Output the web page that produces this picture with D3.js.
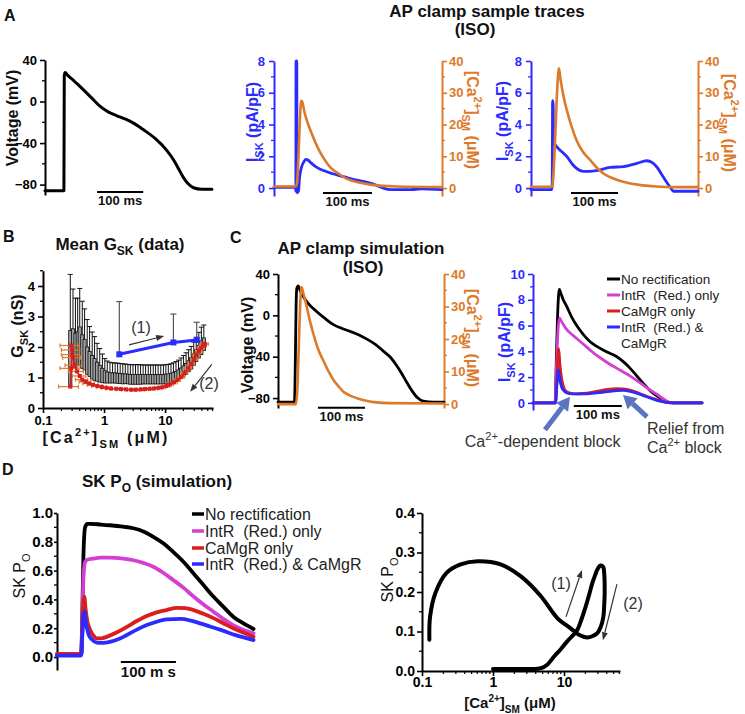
<!DOCTYPE html>
<html><head><meta charset="utf-8">
<script src="https://cdn.jsdelivr.net/npm/d3@7/dist/d3.min.js"></script>
<style>body{margin:0;background:#fff}text{white-space:pre}</style>
</head><body>
<svg id="fig" width="745" height="714" style="background:#fff"></svg>
<script>
// ---------------- DATA ----------------
// Panel A: recorded AP clamp traces  [time ms, value]
const apA1 = [[0,-86],[41,-86],[41.8,25],[43.5,28],[50,25],[60,21],[70,17],[83,11.5],[100,4],[119,-4.5],[137,-10],[155,-13.5],[175,-17],[191,-20.5],[213,-27],[240,-36],[264,-47],[280,-57],[290,-65],[300,-73],[310,-79],[322,-83],[340,-84.5],[362,-84.5]];
const iskA2 = [[0,0.05],[44,0.05],[44.6,-0.2],[45,8],[46.5,8],[47,-0.3],[50,-0.2],[52,0.6],[56,1.3],[60,1.6],[65,1.8],[70,1.75],[75,1.6],[85,1.35],[101,1.1],[120,0.9],[135,0.77],[150,0.65],[169,0.5],[185,0.4],[203,0.25],[215,0.1],[223,0],[240,-0.1],[280,-0.1],[300,-0.05],[343,-0.1]];
const caA2 = [[0,0.5],[44,0.5],[47,1.5],[50,10],[53,22],[55.5,27.5],[58,27],[62,24],[70,20],[80,16],[90,12.5],[101,9.5],[115,6.5],[135,4.2],[150,2.8],[169,1.9],[200,1],[250,0.5],[343,0.3]];
const iskA3 = [[0,-0.1],[44,-0.1],[45,0.2],[46,5.5],[47,5.3],[48,3.2],[50,2.8],[55,2.6],[65,2.3],[76,2.0],[88,1.5],[97,1.24],[111,1.05],[125,1.05],[140,1.1],[168,1.3],[197,1.35],[225,1.55],[246,1.72],[258,1.6],[267,1.34],[281,0.71],[290,0.3],[296,0.05],[303,-0.2],[355,-0.2]];
const caA3 = [[0,0.4],[45,0.4],[48,5],[52,18],[56,32],[59.5,37.7],[63,34],[69,29],[76,24.6],[86,19.5],[97,15],[110,11.5],[126,8.8],[140,6.4],[154,4.6],[175,3],[196,2],[230,1],[267,0.5],[300,0.3],[355,0.3]];

// Panel B: mean G_SK vs [Ca2+]SM
const gskCa   = [0.28,0.31,0.34,0.37,0.40,0.44,0.48,0.53,0.58,0.64,0.70,0.77,0.85,0.94,1.03,1.13,1.25,1.38,1.52,1.67,1.84,2.03,2.23,2.46,2.7,2.98,3.28,3.6,3.97,4.37,4.8,5.3,5.8,6.4,7.0,7.7,8.5,9.4,10.3,11.3,12.5,13.7,15.1,16.6,18.3,20.1,22.1,24.3,26.8,29.5,32.4,35.7,39.3,43.2];
const gskMean = [2.54,2.6,2.45,2.5,2.66,2.4,2.25,2.0,1.85,1.72,1.62,1.5,1.4,1.3,1.22,1.18,1.16,1.15,1.15,1.14,1.13,1.12,1.12,1.11,1.1,1.1,1.1,1.1,1.1,1.1,1.1,1.1,1.1,1.1,1.1,1.1,1.1,1.1,1.11,1.12,1.14,1.17,1.2,1.25,1.31,1.38,1.46,1.55,1.65,1.78,1.92,2.06,2.2,2.3];
const gskSem  = [1.84,1.3,1.15,1.1,1.26,1.1,1.0,0.9,0.82,0.77,0.72,0.62,0.55,0.47,0.4,0.36,0.34,0.33,0.33,0.33,0.33,0.33,0.32,0.32,0.32,0.32,0.32,0.32,0.32,0.31,0.31,0.31,0.31,0.31,0.31,0.31,0.31,0.31,0.31,0.31,0.31,0.31,0.32,0.32,0.33,0.34,0.35,0.36,0.37,0.38,0.4,0.42,0.45,0.42];
const redCa   = [45,42,39,36,33,30,27,24,21,18.5,16,14,12,10.5,9,7.8,6.6,5.6,4.7,4.0,3.3,2.8,2.3,1.9,1.6,1.3,1.1,0.92,0.78,0.66,0.57,0.5,0.44,0.4,0.36,0.33,0.31,0.3,0.29,0.3,0.29,0.28];
const redG    = [2.1,2.05,1.97,1.88,1.75,1.6,1.45,1.3,1.15,1.02,0.92,0.84,0.77,0.72,0.68,0.66,0.64,0.63,0.62,0.61,0.6,0.6,0.61,0.62,0.63,0.64,0.66,0.69,0.72,0.76,0.8,0.86,0.93,1.05,1.2,1.4,1.65,1.9,2.05,1.75,1.3,0.7];
const redCaErr= [6,5.5,5,4.6,4.2,3.8,3.4,3,2.6,2.3,2,1.8,1.6,1.4,1.2,1.05,0.9,0.78,0.66,0.57,0.48,0.41,0.35,0.3,0.26,0.22,0.19,0.17,0.15,0.13,0.12,0.11,0.1,0.1,0.1,0.1,0.1,0.1,0.1,0.1,0.1,0.1];
const blueCa  = [1.78,13.7,33];
const blueG   = [1.76,2.15,2.23];
const blueErr = [1.73,0.93,0.58];

// Panel C: simulation
const apC = [[0,-84],[35,-84],[37,-40],[38.5,10],[40,26],[43,28.5],[47,24],[54,18],[65,11],[82,3.8],[100,-3],[118,-9],[135,-12.5],[153,-15.4],[170,-18.5],[189,-23],[207,-28],[224,-34.6],[240,-41],[253,-49],[264,-57],[274,-65],[285,-73],[295,-79],[309,-83],[330,-84],[353,-84]];
const caC = [[0,0],[38,0],[41,4],[44,17],[47,30],[50,36],[54,34],[61,30],[68,25.5],[75,21.7],[85,17],[96,13.5],[107,10.2],[118,7.4],[129,5.4],[139,3.8],[152,2.7],[168,1.8],[185,1.1],[204,0.6],[240,0.3],[353,0.2]];
const iskNone = [[0,0],[46,0],[49,4],[52,7.5],[55,8.8],[58,8.5],[63,8],[70,7.5],[80,6.7],[91,6.0],[105,5.3],[119,4.75],[132,4.4],[146,4.1],[160,3.85],[174,3.6],[188,3.2],[202,2.7],[216,2.1],[230,1.5],[244,0.95],[258,0.54],[272,0.22],[285,0.03],[300,0],[352,0]];
const iskIntR = [[0,0],[46,0],[49,3],[52,5.6],[55,6.6],[58,6.4],[63,6.1],[70,5.7],[80,5.35],[91,5.0],[105,4.55],[119,4.1],[132,3.7],[146,3.35],[160,3.0],[174,2.7],[188,2.4],[202,2.1],[216,1.75],[230,1.37],[244,1.0],[258,0.67],[272,0.3],[285,0.05],[300,0],[352,0]];
const iskCaMg = [[0,0],[47,0],[50,2],[52,3.8],[53.5,4.2],[56,3],[60,1.8],[65,1.1],[70,0.88],[80,0.75],[91,0.7],[105,0.73],[119,0.8],[132,0.9],[146,1.0],[160,1.07],[174,1.1],[188,1.08],[202,1.0],[216,0.82],[230,0.6],[244,0.42],[258,0.25],[272,0.1],[285,0.02],[300,0],[352,0]];
const iskBoth = [[0,0],[47,0],[50,1.5],[52,2.4],[53.5,2.56],[56,1.8],[60,1.2],[63,1.0],[69,0.8],[75,0.72],[90,0.7],[105,0.7],[119,0.72],[140,0.8],[160,0.9],[174,0.96],[188,0.97],[202,0.9],[216,0.75],[230,0.57],[244,0.38],[258,0.2],[272,0.08],[285,0.01],[300,0],[352,0]];

// Panel D: SK open probability
const poNone = [[0,0.02],[44,0.02],[46,0.3],[48,0.7],[51,0.9],[55,0.925],[60,0.925],[80,0.92],[96,0.915],[120,0.905],[139,0.894],[158,0.87],[175,0.835],[193,0.79],[211,0.73],[230,0.66],[248,0.58],[266,0.5],[284,0.42],[302,0.35],[320,0.28],[338,0.235],[357,0.195]];
const poIntR = [[0,0.02],[44,0.02],[46,0.25],[48,0.55],[51,0.66],[55,0.675],[65,0.683],[80,0.69],[96,0.69],[120,0.683],[139,0.672],[158,0.652],[175,0.627],[193,0.585],[211,0.535],[230,0.48],[248,0.42],[266,0.365],[284,0.315],[302,0.265],[320,0.222],[338,0.19],[357,0.165]];
const poCaMg = [[0,0.02],[44,0.02],[46,0.2],[48,0.38],[49.5,0.42],[52,0.33],[55,0.25],[60,0.19],[66,0.15],[72,0.13],[81,0.13],[90,0.14],[108,0.17],[127,0.21],[145,0.25],[163,0.285],[181,0.31],[199,0.326],[218,0.342],[233,0.34],[248,0.326],[266,0.3],[284,0.27],[302,0.235],[320,0.2],[338,0.17],[357,0.14]];
const poBoth = [[0,0.01],[44,0.01],[46,0.15],[48,0.28],[49.5,0.315],[52,0.25],[55,0.19],[58,0.15],[64,0.12],[72,0.1],[84,0.098],[96,0.105],[112,0.125],[127,0.153],[145,0.19],[163,0.222],[181,0.245],[199,0.262],[225,0.265],[243,0.253],[260,0.234],[278,0.212],[296,0.19],[326,0.15],[357,0.118]];
const loopCa = [1,2,3.5,4.7,5.8,7.2,9,11.1,13,15.4,17.8,20.2,22.6,25,27.5,29.5,32.7,35.5,36.8,37.4,36.8,35.9,33,29.5,25,21.3,16.2,12.4,8.05,4.7,2.45,1.28,0.61,0.35,0.22,0.154,0.13,0.127];
const loopPo = [0.005,0.005,0.005,0.007,0.016,0.036,0.055,0.075,0.088,0.104,0.133,0.163,0.193,0.222,0.243,0.257,0.267,0.264,0.248,0.197,0.165,0.138,0.112,0.096,0.088,0.085,0.092,0.108,0.134,0.19,0.24,0.27,0.278,0.27,0.248,0.197,0.138,0.079];

const legendLabels = ["No rectification","IntR  (Red.) only","CaMgR only","IntR  (Red.) & CaMgR"];

// ---------------- STYLE ----------------
const FONT = "Arial, 'Liberation Sans', Helvetica, sans-serif";
const C_BLUE="#2b2bff", C_OR="#dc7a2a", C_PINK="#d23fd2", C_RED="#d81e1e", C_ARROW="#5a74c2", C_TXT="#333";
const legendColors = ["#000", C_PINK, C_RED, C_BLUE];

const svg = d3.select("#fig");

function txt(g, x, y, parts, o){
  o = o||{};
  const fs = o.fs||16;
  const t = g.append("text").attr("font-family",FONT).attr("font-size",fs)
    .attr("font-weight",o.bold?"bold":"normal").attr("fill",o.color||"#111")
    .attr("text-anchor",o.anchor||"start");
  if(o.rot!==undefined) t.attr("transform",`translate(${x},${y}) rotate(${o.rot})`);
  else t.attr("x",x).attr("y",y);
  if(o.ls) t.attr("letter-spacing",o.ls);
  if(typeof parts==="string") parts=[[parts]];
  let cur=0;
  parts.forEach(([s,k])=>{
    const off = k==="sup"? -0.42*fs : k==="sub"? 0.3*fs : 0;
    t.append("tspan").attr("dy",off-cur).attr("font-size",k?Math.round(fs*0.68):fs).text(s);
    cur=off;
  });
  return t;
}
function styleAxis(a,color,fs){
  a.attr("font-family",FONT).attr("font-size",fs).attr("font-weight","bold");
  a.select(".domain").attr("stroke",color).attr("stroke-width",2);
  a.selectAll(".tick line").attr("stroke",color).attr("stroke-width",1.6);
  a.selectAll(".tick text").attr("fill",color);
}
function yAxis(g, scale, x, side, major, minor, fmt, color, fs, tl, pad){
  const ax=(side==="left"?d3.axisLeft(scale):d3.axisRight(scale)).tickValues(major).tickFormat(fmt)
    .tickSize(tl||5).tickSizeOuter(0).tickPadding(pad===undefined?3:pad);
  const a=g.append("g").attr("transform",`translate(${x},0)`).call(ax);
  styleAxis(a,color,fs);
  a.selectAll("line.minor").data(minor).join("line").attr("class","minor")
    .attr("x1",0).attr("x2",side==="left"?-3:3).attr("y1",d=>scale(d)).attr("y2",d=>scale(d))
    .attr("stroke",color).attr("stroke-width",1.3);
}
function xAxis(g, scale, y, major, minor, fmt, color, fs, pad){
  const ax=d3.axisBottom(scale).tickValues(major).tickFormat(fmt).tickSize(5).tickSizeOuter(0).tickPadding(pad===undefined?3:pad);
  const a=g.append("g").attr("transform",`translate(0,${y})`).call(ax);
  styleAxis(a,color,fs);
  a.selectAll("line.minor").data(minor).join("line").attr("class","minor")
    .attr("y1",0).attr("y2",3).attr("x1",d=>scale(d)).attr("x2",d=>scale(d))
    .attr("stroke",color).attr("stroke-width",1.2);
}
function trace(g,x,y,data,color,w){
  g.append("path").datum(data).attr("fill","none").attr("stroke",color).attr("stroke-width",w)
    .attr("stroke-linejoin","round").attr("stroke-linecap","round")
    .attr("d",d3.line().x(d=>x(d[0])).y(d=>y(d[1])).curve(d3.curveMonotoneX));
}
function scaleBar(g,x,y,t0,v){
  g.append("line").attr("x1",x(t0)).attr("x2",x(t0+100)).attr("y1",y(v)).attr("y2",y(v))
    .attr("stroke","#000").attr("stroke-width",2);
}
function scaleBarText(g,x,y,t0,v,label,fs){
  txt(g,(x(t0)+x(t0+100))/2,y(v)+fs,label,{bold:true,fs:fs,anchor:"middle"});
}
function arrow(g,x1,y1,x2,y2,color,w,hl,hw){
  const a=Math.atan2(y2-y1,x2-x1);
  const bx=x2-hl*Math.cos(a), by=y2-hl*Math.sin(a);
  g.append("line").attr("x1",x1).attr("y1",y1).attr("x2",bx).attr("y2",by).attr("stroke",color).attr("stroke-width",w);
  const px=-Math.sin(a)*hw/2, py=Math.cos(a)*hw/2;
  g.append("path").attr("d",`M${x2},${y2}L${bx+px},${by+py}L${bx-px},${by-py}Z`).attr("fill",color);
}
const f0 = d3.format("d"), f1 = d3.format(".1f");
const logFmt = d=> d<1? "0.1" : String(d);
const logMinor = [0.2,0.3,0.4,0.5,0.6,0.7,0.8,0.9,2,3,4,5,6,7,8,9,20,30,40,50,60];
const caLabel = [["[Ca"],["2+","sup"],["]"],["SM","sub"],[" (μM)"]];
const iskLabel = [["I"],["SK","sub"],[" (pA/pF)"]];

// ---------------- PANEL A ----------------
const gA = svg.append("g");
txt(gA,4,21,"A",{bold:true,fs:16});
txt(gA,487,17,"AP clamp sample traces",{bold:true,fs:17,anchor:"middle"});
txt(gA,475,35,"(ISO)",{bold:true,fs:17,anchor:"middle"});

// A1
const xA1=d3.scaleLinear().domain([0,360]).range([45,211]);
const yA1=d3.scaleLinear().domain([-90,40]).range([195,60]);
yAxis(gA,yA1,45,"left",[40,0,-40,-80],[20,-20,-60],f0,"#000",13,5,3);
trace(gA,xA1,yA1,apA1,"#000",3);
scaleBar(gA,xA1,yA1,113,-87); scaleBarText(gA,xA1,yA1,113,-87,"100 ms",13);
txt(gA,18,118,"Voltage (mV)",{bold:true,fs:16,rot:-90,anchor:"middle"});

// A2
const xA2=d3.scaleLinear().domain([0,343]).range([274,442]);
const yA2L=d3.scaleLinear().domain([-0.5,8]).range([196,61]);
const yA2R=d3.scaleLinear().domain([-2.5,40]).range([196,61]);
yAxis(gA,yA2L,274,"left",[0,2,4,6,8],[1,3,5,7],f0,C_BLUE,13,5,4);
yAxis(gA,yA2R,442,"right",[0,10,20,30,40],[5,15,25,35],f0,C_OR,13,5,2);
trace(gA,xA2,yA2L,iskA2,C_BLUE,2.8);
trace(gA,xA2,yA2R,caA2,C_OR,2.6);
scaleBar(gA,xA2,yA2L,100,-0.31); scaleBarText(gA,xA2,yA2L,100,-0.31,"100 ms",13);
txt(gA,258,122,iskLabel,{bold:true,fs:16,rot:-90,anchor:"middle",color:C_BLUE});
txt(gA,467,120,caLabel,{bold:true,fs:16,rot:90,anchor:"middle",color:C_OR});

// A3
const xA3=d3.scaleLinear().domain([0,355]).range([531,698]);
const yA3L=d3.scaleLinear().domain([-0.5,8]).range([196,61]);
const yA3R=d3.scaleLinear().domain([-2.5,40]).range([196,61]);
yAxis(gA,yA3L,531,"left",[0,2,4,6,8],[1,3,5,7],f0,C_BLUE,13,5,4);
yAxis(gA,yA3R,698,"right",[0,10,20,30,40],[5,15,25,35],f0,C_OR,13,5,2);
trace(gA,xA3,yA3L,iskA3,C_BLUE,2.8);
trace(gA,xA3,yA3R,caA3,C_OR,2.6);
scaleBar(gA,xA3,yA3L,85,-0.31); scaleBarText(gA,xA3,yA3L,85,-0.31,"100 ms",13);
txt(gA,508,121,iskLabel,{bold:true,fs:16,rot:-90,anchor:"middle",color:C_BLUE});
txt(gA,724,123,caLabel,{bold:true,fs:16,rot:90,anchor:"middle",color:C_OR});

// ---------------- PANEL B ----------------
const gB = svg.append("g");
txt(gB,3,242,"B",{bold:true,fs:16});
txt(gB,120,250,[["Mean G"],["SK","sub"],[" (data)"]],{bold:true,fs:17,anchor:"middle"});
const xB=d3.scaleLog().domain([0.1,61]).range([43,213]);
const yB=d3.scaleLinear().domain([0,4.5]).range([408,270.75]);
const bd=gskCa.map((c,i)=>({c,m:gskMean[i],s:gskSem[i]}));
gB.selectAll("line.wk").data(bd).join("line").attr("class","wk")
  .attr("x1",d=>xB(d.c)).attr("x2",d=>xB(d.c)).attr("y1",d=>yB(d.m)).attr("y2",d=>yB(d.m+d.s))
  .attr("stroke","#111").attr("stroke-width",1);
gB.selectAll("line.cap").data(bd).join("line").attr("class","cap")
  .attr("x1",d=>xB(d.c)-2.5).attr("x2",d=>xB(d.c)+2.5).attr("y1",d=>yB(d.m+d.s)).attr("y2",d=>yB(d.m+d.s))
  .attr("stroke","#111").attr("stroke-width",1);
gB.selectAll("rect.bar").data(bd).join("rect").attr("class","bar")
  .attr("x",d=>xB(d.c)-1.6).attr("width",3.2).attr("y",d=>yB(d.m)).attr("height",d=>yB(d.m-d.s)-yB(d.m))
  .attr("fill","#a0a0a0").attr("stroke","#111").attr("stroke-width",0.8);
const rd=redCa.map((c,i)=>({c,g:redG[i],e:redCaErr[i]}));
gB.selectAll("line.xe").data(rd).join("line").attr("class","xe")
  .attr("x1",d=>xB(Math.max(d.c-d.e,0.105))).attr("x2",d=>xB(d.c+d.e)).attr("y1",d=>yB(d.g)).attr("y2",d=>yB(d.g))
  .attr("stroke",C_OR).attr("stroke-width",1.2);
gB.selectAll("line.xc1").data(rd).join("line").attr("class","xc1")
  .attr("x1",d=>xB(Math.max(d.c-d.e,0.105))).attr("x2",d=>xB(Math.max(d.c-d.e,0.105))).attr("y1",d=>yB(d.g)-2).attr("y2",d=>yB(d.g)+2)
  .attr("stroke",C_OR).attr("stroke-width",1.2);
gB.selectAll("line.xc2").data(rd).join("line").attr("class","xc2")
  .attr("x1",d=>xB(d.c+d.e)).attr("x2",d=>xB(d.c+d.e)).attr("y1",d=>yB(d.g)-2).attr("y2",d=>yB(d.g)+2)
  .attr("stroke",C_OR).attr("stroke-width",1.2);
gB.append("path").datum(rd).attr("fill","none").attr("stroke",C_RED).attr("stroke-width",1.6)
  .attr("d",d3.line().x(d=>xB(d.c)).y(d=>yB(d.g)));
gB.selectAll("rect.rs").data(rd).join("rect").attr("class","rs")
  .attr("x",d=>xB(d.c)-2).attr("y",d=>yB(d.g)-2).attr("width",4).attr("height",4).attr("fill",C_RED);
const bl=blueCa.map((c,i)=>({c,g:blueG[i],e:blueErr[i]}));
gB.selectAll("line.bw").data(bl).join("line").attr("class","bw")
  .attr("x1",d=>xB(d.c)).attr("x2",d=>xB(d.c)).attr("y1",d=>yB(d.g)).attr("y2",d=>yB(d.g+d.e))
  .attr("stroke","#555").attr("stroke-width",1.2);
gB.selectAll("line.bc").data(bl).join("line").attr("class","bc")
  .attr("x1",d=>xB(d.c)-3).attr("x2",d=>xB(d.c)+3).attr("y1",d=>yB(d.g+d.e)).attr("y2",d=>yB(d.g+d.e))
  .attr("stroke","#555").attr("stroke-width",1.2);
gB.append("path").datum(bl).attr("fill","none").attr("stroke",C_BLUE).attr("stroke-width",3)
  .attr("d",d3.line().x(d=>xB(d.c)).y(d=>yB(d.g)));
gB.selectAll("rect.bs").data(bl).join("rect").attr("class","bs")
  .attr("x",d=>xB(d.c)-3).attr("y",d=>yB(d.g)-3).attr("width",6).attr("height",6).attr("fill",C_BLUE);
yAxis(gB,yB,43,"left",[0,1,2,3,4],[0.5,1.5,2.5,3.5,4.5],f0,"#000",13,5,3);
xAxis(gB,xB,408,[0.1,1,10],logMinor,logFmt,"#000",13);
txt(gB,23,326,[["G"],["SK","sub"],[" (nS)"]],{bold:true,fs:16,rot:-90,anchor:"middle"});
txt(gB,106,443,caLabel,{bold:true,fs:16,anchor:"middle",ls:2.2});
arrow(gB,xB(2.57),yB(2.07),xB(9.64),yB(2.36),"#333",1.2,8,6);
txt(gB,xB(4.04),yB(2.46),"(1)",{fs:16,anchor:"middle",color:C_TXT});
arrow(gB,xB(58.3),yB(1.43),xB(25.7),yB(0.53),"#333",1.2,8,6);
txt(gB,xB(52.6),yB(0.62),"(2)",{fs:16,anchor:"middle",color:C_TXT});

// ---------------- PANEL C ----------------
const gC = svg.append("g");
txt(gC,230,243,"C",{bold:true,fs:16});
txt(gC,361,254,"AP clamp simulation",{bold:true,fs:17,anchor:"middle"});
txt(gC,363,273,"(ISO)",{bold:true,fs:17,anchor:"middle"});
const xCL=d3.scaleLinear().domain([0,353]).range([278,444]);
const yCLv=d3.scaleLinear().domain([-89.6,40]).range([408,274]);
const yCLc=d3.scaleLinear().domain([-1.2,40]).range([408,274]);
yAxis(gC,yCLv,278,"left",[40,0,-40,-80],[20,-20,-60],f0,"#000",13,5,3);
yAxis(gC,yCLc,444,"right",[0,10,20,30,40],[5,15,25,35],f0,C_OR,13,5,2);
trace(gC,xCL,yCLv,apC,"#000",2.8);
trace(gC,xCL,yCLc,caC,C_OR,2.6);
scaleBar(gC,xCL,yCLv,85,-89.4); scaleBarText(gC,xCL,yCLv,85,-89.4,"100 ms",13);
txt(gC,253,345,"Voltage (mV)",{bold:true,fs:16,rot:-90,anchor:"middle"});
txt(gC,467,338,caLabel,{bold:true,fs:16,rot:90,anchor:"middle",color:C_OR});

const xCR=d3.scaleLinear().domain([0,352]).range([533,702]);
const yCR=d3.scaleLinear().domain([-0.55,10]).range([410,274]);
yAxis(gC,yCR,533,"left",[0,2,4,6,8,10],[1,3,5,7,9],f0,C_BLUE,13,5,3);
[iskNone,iskIntR,iskCaMg,iskBoth].forEach((s,i)=>trace(gC,xCR,yCR,s,legendColors[i],2.8));
scaleBar(gC,xCR,yCR,85,-0.24); scaleBarText(gC,xCR,yCR,85,-0.24,"100 ms",13);
txt(gC,510,342,iskLabel,{bold:true,fs:16,rot:-90,anchor:"middle",color:C_BLUE});
const legC=[legendLabels[0],legendLabels[1],legendLabels[2],"IntR  (Red.) &"];
const legCy=[279,295,311,327];
legC.forEach((s,i)=>{
  gC.append("line").attr("x1",607).attr("x2",620).attr("y1",legCy[i]).attr("y2",legCy[i]).attr("stroke",legendColors[i]).attr("stroke-width",3);
  txt(gC,621,legCy[i]+5,s,{fs:13.5,color:"#222"});
});
txt(gC,621,348,"CaMgR",{fs:13.5,color:"#222"});
arrow(gC,xCR(25),yCR(-2.09),xCR(77),yCR(0.47),C_ARROW,5,13,15);
arrow(gC,xCR(237.5),yCR(-1.09),xCR(187.5),yCR(0.62),C_ARROW,5,13,15);
txt(gC,xCR(-142),yCR(-3.41),[["Ca"],["2+","sup"],["-dependent block"]],{fs:16,color:C_TXT});
txt(gC,xCR(237.5),yCR(-2.4),"Relief from",{fs:16,color:C_TXT});
txt(gC,xCR(237.5),yCR(-3.88),[["Ca"],["2+","sup"],[" block"]],{fs:16,color:C_TXT});

// ---------------- PANEL D ----------------
const gD = svg.append("g");
txt(gD,2,475,"D",{bold:true,fs:16});
txt(gD,157,487,[["SK P"],["O","sub"],[" (simulation)"]],{bold:true,fs:17,anchor:"middle"});
const xDL=d3.scaleLinear().domain([0,356]).range([57,253]);
const yDL=d3.scaleLinear().domain([-0.09,1.0]).range([670,513]);
yAxis(gD,yDL,57,"left",[0,0.2,0.4,0.6,0.8,1.0],[0.1,0.3,0.5,0.7,0.9],f1,"#000",15,3,1);
[poNone,poIntR,poCaMg,poBoth].forEach((s,i)=>trace(gD,xDL,yDL,s,legendColors[i],3.8));
scaleBar(gD,xDL,yDL,116,-0.035); scaleBarText(gD,xDL,yDL,116,-0.035,"100 m s",15);
txt(gD,25,576,[["SK P"],["O","sub"]],{fs:16,rot:-90,anchor:"middle"});
const legDy=[514,531,548,564];
legendLabels.forEach((s,i)=>{
  gD.append("line").attr("x1",192).attr("x2",204).attr("y1",legDy[i]).attr("y2",legDy[i]).attr("stroke",legendColors[i]).attr("stroke-width",3.5);
  txt(gD,205,legDy[i]+5.5,s,{fs:16,color:"#222"});
});

const xDR=d3.scaleLog().domain([0.1,61.5]).range([422,620]);
const yDR=d3.scaleLinear().domain([0,0.4]).range([671,513]);
const lp=loopCa.map((c,i)=>[c,loopPo[i]]);
gD.append("path").datum(lp).attr("fill","none").attr("stroke","#000").attr("stroke-width",4)
  .attr("stroke-linejoin","round").attr("stroke-linecap","round")
  .attr("d",d3.line().x(d=>xDR(d[0])).y(d=>yDR(d[1])).curve(d3.curveCatmullRom.alpha(0.5)));
yAxis(gD,yDR,422,"left",[0,0.1,0.2,0.3,0.4],[0.05,0.15,0.25,0.35],f1,"#000",14,5,2);
xAxis(gD,xDR,671,[0.1,1,10],logMinor,logFmt,"#000",14,1);
txt(gD,393,580,[["SK P"],["O","sub"]],{fs:16,rot:-90,anchor:"middle"});
txt(gD,510,708,caLabel,{bold:true,fs:15,anchor:"middle"});
arrow(gD,xDR(10.67),yDR(0.137),xDR(17.9),yDR(0.256),"#333",1.2,8,6);
txt(gD,xDR(9.08),yDR(0.208),"(1)",{fs:16,anchor:"middle",color:C_TXT});
arrow(gD,xDR(55.7),yDR(0.22),xDR(35.4),yDR(0.078),"#333",1.2,8,6);
txt(gD,xDR(93.7),yDR(0.157),"(2)",{fs:16,anchor:"middle",color:C_TXT});
</script>
</body></html>
